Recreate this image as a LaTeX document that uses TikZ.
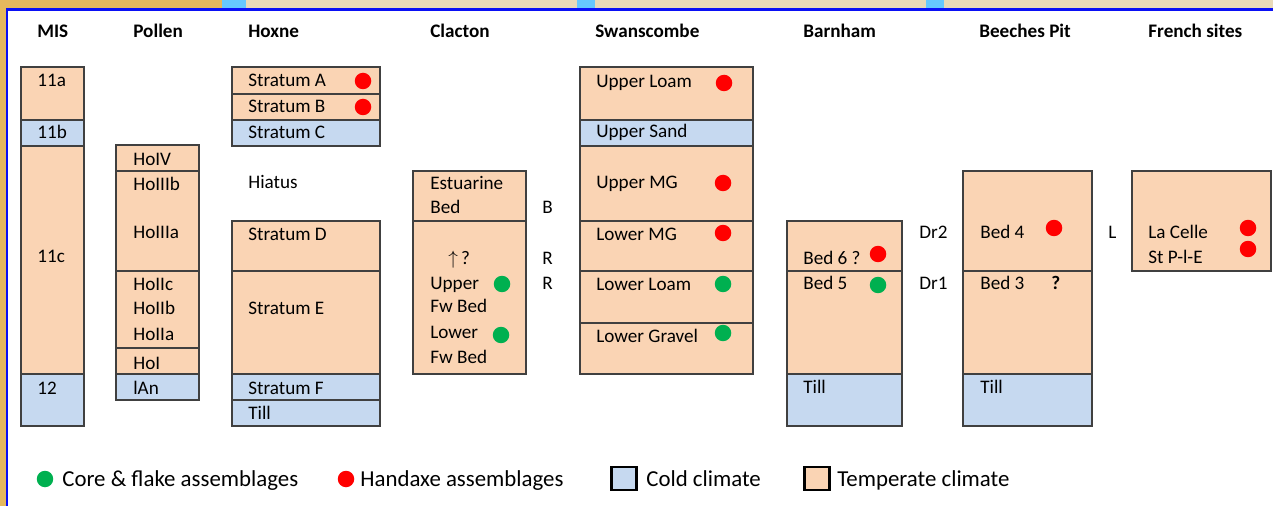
\documentclass[tikz,border=0pt]{standalone}
\usepackage{fontspec}
\setmainfont{Carlito}
\usetikzlibrary{positioning}
\definecolor{warmfill}{HTML}{FAD4B4}
\definecolor{coldfill}{HTML}{C6D9F0}
\definecolor{handred}{HTML}{FF0000}
\definecolor{flakegreen}{HTML}{00B050}
\definecolor{frameblue}{HTML}{0A10F5}
\definecolor{tabgold}{HTML}{E5B85E}
\definecolor{tabsand}{HTML}{E9DAB9}
\definecolor{tabsky}{HTML}{66C8FF}

\begin{document}
\begin{tikzpicture}[x=0.02cm, y=-0.02cm, font=\fontsize{10.9}{12}\selectfont]

    \useasboundingbox (0,0) rectangle (1273,506);
    \fill[tabsand] (0,0) rectangle (1273,8);
    \fill[tabgold] (0,0) rectangle (222,8);
    \fill[tabsky] (222,0) rectangle (246,8);
    \fill[tabsky] (577,0) rectangle (595,8);
    \fill[tabsky] (926,0) rectangle (944,8);
    \fill[tabgold] (0,0) rectangle (6,506);
    \draw[frameblue, line width=1.2pt] (6.7,506) -- (6.7,9.5) -- (1273,9.5);

    \tikzstyle{warm} = [fill=warmfill, draw=black!75, line width=0.6pt]
    \tikzstyle{cold} = [fill=coldfill, draw=black!75, line width=0.6pt]
    \tikzstyle{lbl} = [anchor=base west, inner sep=0pt]
    \tikzstyle{head} = [anchor=base west, inner sep=0pt, font=\fontsize{10.9}{12}\selectfont\bfseries]
    \tikzstyle{handaxe} = [circle, fill=handred, minimum size=0.33cm, inner sep=0pt]
    \tikzstyle{flake} = [circle, fill=flakegreen, minimum size=0.33cm, inner sep=0pt]

    \node[head] (hmis) at (37,38) {MIS};
    \node[head] (hpollen) at (133,38) {Pollen};
    \node[head] (hhoxne) at (248,38) {Hoxne};
    \node[head] (hclacton) at (430,38) {Clacton};
    \node[head] (hswans) at (595,38) {Swanscombe};
    \node[head] (hbarnham) at (803,38) {Barnham};
    \node[head] (hbeeches) at (979,38) {Beeches Pit};
    \node[head] (hfrench) at (1148,38) {French sites};

    \begin{scope}
      \filldraw[warm] (21,67) rectangle (84,120);
      \filldraw[cold] (21,120) rectangle (84,146);
      \filldraw[warm] (21,146) rectangle (84,374);
      \filldraw[cold] (21,374) rectangle (84,426);
      \node[lbl] (m11a) at (37,87) {11a};
      \node[lbl] (m11b) at (37,139) {11b};
      \node[lbl] (m11c) at (37,263) {11c};
      \node[lbl] (m12) at (37,394) {12};
    \end{scope}

    \begin{scope}
      \filldraw[warm] (116,145) rectangle (199,171);
      \filldraw[warm] (116,171) rectangle (199,271);
      \filldraw[warm] (116,271) rectangle (199,348);
      \filldraw[warm] (116,348) rectangle (199,374);
      \filldraw[cold] (116,374) rectangle (199,400);
      \node[lbl] (p4) at (133,165.5) {HoIV};
      \node[lbl] (p3b) at (133,191) {HoIIIb};
      \node[lbl] (p3a) at (133,239) {HoIIIa};
      \node[lbl] (p2c) at (133,291) {HoIIc};
      \node[lbl] (p2b) at (133,315) {HoIIb};
      \node[lbl] (p2a) at (133,340) {HoIIa};
      \node[lbl] (p1) at (133,369) {HoI};
      \node[lbl] (pan) at (133,394) {lAn};
    \end{scope}

    \begin{scope}
      \filldraw[warm] (232,67) rectangle (380,94);
      \filldraw[warm] (232,94) rectangle (380,120);
      \filldraw[cold] (232,120) rectangle (380,146);
      \filldraw[warm] (232,221) rectangle (380,271);
      \filldraw[warm] (232,271) rectangle (380,374);
      \filldraw[cold] (232,374) rectangle (380,400);
      \filldraw[cold] (232,400) rectangle (380,426);
      \node[lbl] (sa) at (248,87) {Stratum A};
      \node[lbl] (sb) at (248,113) {Stratum B};
      \node[lbl] (sc) at (248,139) {Stratum C};
      \node[lbl] (hiatus) at (248,189) {Hiatus};
      \node[lbl] (sd) at (248,241) {Stratum D};
      \node[lbl] (se) at (248,315) {Stratum E};
      \node[lbl] (sf) at (248,394) {Stratum F};
      \node[lbl] (htill) at (248,419) {Till};
      \node[handaxe] (dsa) at (363,81) {};
      \node[handaxe] (dsb) at (363,107) {};
    \end{scope}

    \begin{scope}
      \filldraw[warm] (413,171) rectangle (526,221);
      \filldraw[warm] (413,221) rectangle (526,374);
      \node[lbl] (est) at (430,190) {Estuarine};
      \node[lbl] (estbed) at (430,214) {Bed};
      \node[lbl] (upq) at (448,265) {$\uparrow$\,?};
      \node[lbl] (ufw) at (430,290) {Upper};
      \node[lbl] (ufwbed) at (430,313) {Fw Bed};
      \node[lbl] (lfw) at (430,338) {Lower};
      \node[lbl] (lfwbed) at (430,363) {Fw Bed};
      \node[flake] (dufw) at (502,284) {};
      \node[flake] (dlfw) at (501,335) {};
      \node[lbl] (cb) at (542,214) {B};
      \node[lbl] (cr1) at (542,265) {R};
      \node[lbl] (cr2) at (542,290) {R};
    \end{scope}

    \begin{scope}
      \filldraw[warm] (580,67) rectangle (753,120);
      \filldraw[cold] (580,120) rectangle (753,146);
      \filldraw[warm] (580,146) rectangle (753,221);
      \filldraw[warm] (580,221) rectangle (753,271);
      \filldraw[warm] (580,271) rectangle (753,323);
      \filldraw[warm] (580,323) rectangle (753,374);
      \node[lbl] (uloam) at (596,88) {Upper Loam};
      \node[lbl] (usand) at (596,138) {Upper Sand};
      \node[lbl] (umg) at (596,189) {Upper MG};
      \node[lbl] (lmg) at (596,241) {Lower MG};
      \node[lbl] (lloam) at (596,291) {Lower Loam};
      \node[lbl] (lgravel) at (596,342) {Lower Gravel};
      \node[handaxe] (duloam) at (724,83) {};
      \node[handaxe] (dumg) at (723,183) {};
      \node[handaxe] (dlmg) at (723,233) {};
      \node[flake] (dlloam) at (723,284) {};
      \node[flake] (dlgravel) at (723,333) {};
    \end{scope}

    \begin{scope}
      \filldraw[warm] (787,221) rectangle (902,271);
      \filldraw[warm] (787,271) rectangle (902,374);
      \filldraw[cold] (787,374) rectangle (902,426);
      \node[lbl] (bed6) at (803,265) {Bed 6 ?};
      \node[lbl] (bed5) at (803,290) {Bed 5};
      \node[lbl] (btill) at (803,393) {Till};
      \node[handaxe] (dbed6) at (878,254) {};
      \node[flake] (dbed5) at (878,285) {};
      \node[lbl] (dr2) at (919,239) {Dr2};
      \node[lbl] (dr1) at (919,290) {Dr1};
    \end{scope}

    \begin{scope}
      \filldraw[warm] (963,171) rectangle (1092,271);
      \filldraw[warm] (963,271) rectangle (1092,374);
      \filldraw[cold] (963,374) rectangle (1092,426);
      \node[lbl] (bed4) at (980,239) {Bed 4};
      \node[lbl] (bed3) at (980,290) {Bed 3};
      \node[lbl, font=\fontsize{10.9}{12}\selectfont\bfseries] (bed3q) at (1051,290) {?};
      \node[lbl] (ptill) at (980,393) {Till};
      \node[handaxe] (dbed4) at (1054,228) {};
      \node[lbl] (ell) at (1108,239) {L};
    \end{scope}

    \begin{scope}
      \filldraw[warm] (1132,171) rectangle (1271,271);
      \node[lbl] (lacelle) at (1148,239) {La Celle};
      \node[lbl] (stple) at (1148,264) {St P-l-E};
      \node[handaxe] (dlacelle) at (1248,228) {};
      \node[handaxe] (dstple) at (1248,249) {};
    \end{scope}

    \begin{scope}[font=\fontsize{13}{15}\selectfont]
      \node[flake] (kflake) at (45,479) {};
      \node[lbl] (tflake) at (62,486) {Core \& flake assemblages};
      \node[handaxe] (khand) at (346,479) {};
      \node[lbl] (thand) at (360,486) {Handaxe assemblages};
      \filldraw[fill=coldfill, draw=black, line width=1.7pt] (611,467) rectangle (636,490);
      \node[lbl] (tcold) at (646,486) {Cold climate};
      \filldraw[fill=warmfill, draw=black, line width=1.7pt] (804,467) rectangle (829,490);
      \node[lbl] (twarm) at (837,486) {Temperate climate};
    \end{scope}

  \end{tikzpicture}
\end{document}
